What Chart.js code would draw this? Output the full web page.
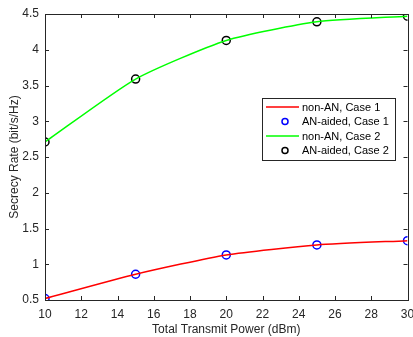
<!DOCTYPE html>
<html>
<head>
<meta charset="utf-8">
<script src="https://cdn.jsdelivr.net/npm/chart.js@4.4.0/dist/chart.umd.min.js"></script>
<style>
  html, body { margin: 0; padding: 0; background: #fff; }
  #wrap { width: 413px; height: 337px; position: relative; }
</style>
</head>
<body>
<div id="wrap"><canvas id="chart"></canvas></div>
<script>
const power = [10, 15, 20, 25, 30]
const case1 = [0.52, 0.86, 1.13, 1.27, 1.33]
const case2 = [2.71, 3.59, 4.13, 4.39, 4.47]
const xTicks = [10, 12, 14, 16, 18, 20, 22, 24, 26, 28, 30]
const yTicks = [0.5, 1, 1.5, 2, 2.5, 3, 3.5, 4, 4.5]
const legendLabels = ["non-AN, Case 1", "AN-aided, Case 1", "non-AN, Case 2", "AN-aided, Case 2"]

const FONT = "'Liberation Sans', Arial, sans-serif"
const pts = arr => power.map((p, i) => ({ x: p, y: arr[i] }))

// MATLAB style box with inward ticks on all four sides
const boxPlugin = {
    id: "box",
    afterDatasetsDraw(chart){
        const { ctx, chartArea: a, scales: { x, y } } = chart
        ctx.save()
        ctx.strokeStyle = "#262626"
        ctx.lineWidth = 1
        ctx.beginPath()
        xTicks.forEach(v => {
            const px = Math.round(x.getPixelForValue(v)) + 0.5
            ctx.moveTo(px, a.bottom); ctx.lineTo(px, a.bottom - 4)
            ctx.moveTo(px, a.top); ctx.lineTo(px, a.top + 4)
        })
        yTicks.forEach(v => {
            const py = Math.round(y.getPixelForValue(v)) + 0.5
            ctx.moveTo(a.left, py); ctx.lineTo(a.left + 4, py)
            ctx.moveTo(a.right, py); ctx.lineTo(a.right - 4, py)
        })
        ctx.stroke()
        ctx.strokeRect(Math.round(a.left) + 0.5, Math.round(a.top) + 0.5,
            Math.round(a.right - a.left), Math.round(a.bottom - a.top))
        ctx.restore()
    }
}

// legend box inside the plot, like the MATLAB one
const legendPlugin = {
    id: "boxLegend",
    afterDraw(chart){
        const { ctx } = chart
        const lx = 262, ly = 98, lw = 133, lh = 62
        ctx.save()
        ctx.fillStyle = "#fff"
        ctx.fillRect(lx, ly, lw, lh)
        ctx.strokeStyle = "#262626"
        ctx.lineWidth = 1
        ctx.strokeRect(lx + 0.5, ly + 0.5, lw, lh)
        ctx.font = "11px " + FONT
        ctx.textBaseline = "middle"
        chart.data.datasets.forEach((ds, i) => {
            const cy = ly + 9 + i * 14.5
            if (ds.showLine === false){
                ctx.strokeStyle = ds.pointBorderColor
                ctx.lineWidth = 1.5
                ctx.beginPath()
                ctx.arc(lx + 23, cy, 3, 0, Math.PI * 2)
                ctx.stroke()
            } else {
                ctx.strokeStyle = ds.borderColor
                ctx.lineWidth = 1.5
                ctx.beginPath()
                ctx.moveTo(lx + 4, cy); ctx.lineTo(lx + 37, cy)
                ctx.stroke()
            }
            ctx.fillStyle = "#000"
            ctx.fillText(legendLabels[i], lx + 40, cy + 0.5)
        })
        ctx.restore()
    }
}

new Chart(document.getElementById("chart"), {
    type: "line",
    data: {
        datasets: [
            { data: pts(case1), borderColor: "#ff0000", borderWidth: 1.5, pointRadius: 0, tension: 0.2 },
            { data: pts(case1), showLine: false, pointRadius: 4, pointBorderWidth: 1.5, pointBorderColor: "#0000ff", pointBackgroundColor: "rgba(0,0,0,0)" },
            { data: pts(case2), borderColor: "#00ff00", borderWidth: 1.5, pointRadius: 0, tension: 0.2 },
            { data: pts(case2), showLine: false, pointRadius: 4, pointBorderWidth: 1.5, pointBorderColor: "#000000", pointBackgroundColor: "rgba(0,0,0,0)" }
        ]
    },
    options: {
        responsive: true,
        maintainAspectRatio: false,
        animation: false,
        layout: { padding: { top: 14, right: 5, left: 0, bottom: 0 } },
        plugins: { legend: { display: false }, tooltip: { enabled: false } },
        scales: {
            x: {
                type: "linear", min: 10, max: 30,
                afterBuildTicks: s => { s.ticks = xTicks.map(v => ({ value: v })) },
                afterFit: s => { s.height = 37; s.paddingLeft = 0; s.paddingRight = 0 },
                grid: { display: false, drawTicks: false },
                border: { display: false },
                ticks: { color: "#262626", font: { family: FONT, size: 12 }, padding: 7, maxRotation: 0 },
                title: { display: true, text: "Total Transmit Power (dBm)", color: "#262626", font: { family: FONT, size: 12 }, padding: { top: 1, bottom: 0 } }
            },
            y: {
                min: 0.5, max: 4.5,
                afterBuildTicks: s => { s.ticks = yTicks.map(v => ({ value: v })) },
                afterFit: s => { s.width = 45; s.paddingTop = 0; s.paddingBottom = 0 },
                grid: { display: false, drawTicks: false },
                border: { display: false },
                ticks: { color: "#262626", font: { family: FONT, size: 12 }, padding: 6, callback: v => String(v) },
                title: { display: true, text: "Secrecy Rate (bit/s/Hz)", color: "#262626", font: { family: FONT, size: 12 }, padding: { top: 7, bottom: 0 } }
            }
        }
    },
    plugins: [boxPlugin, legendPlugin]
})
</script>
</body>
</html>
